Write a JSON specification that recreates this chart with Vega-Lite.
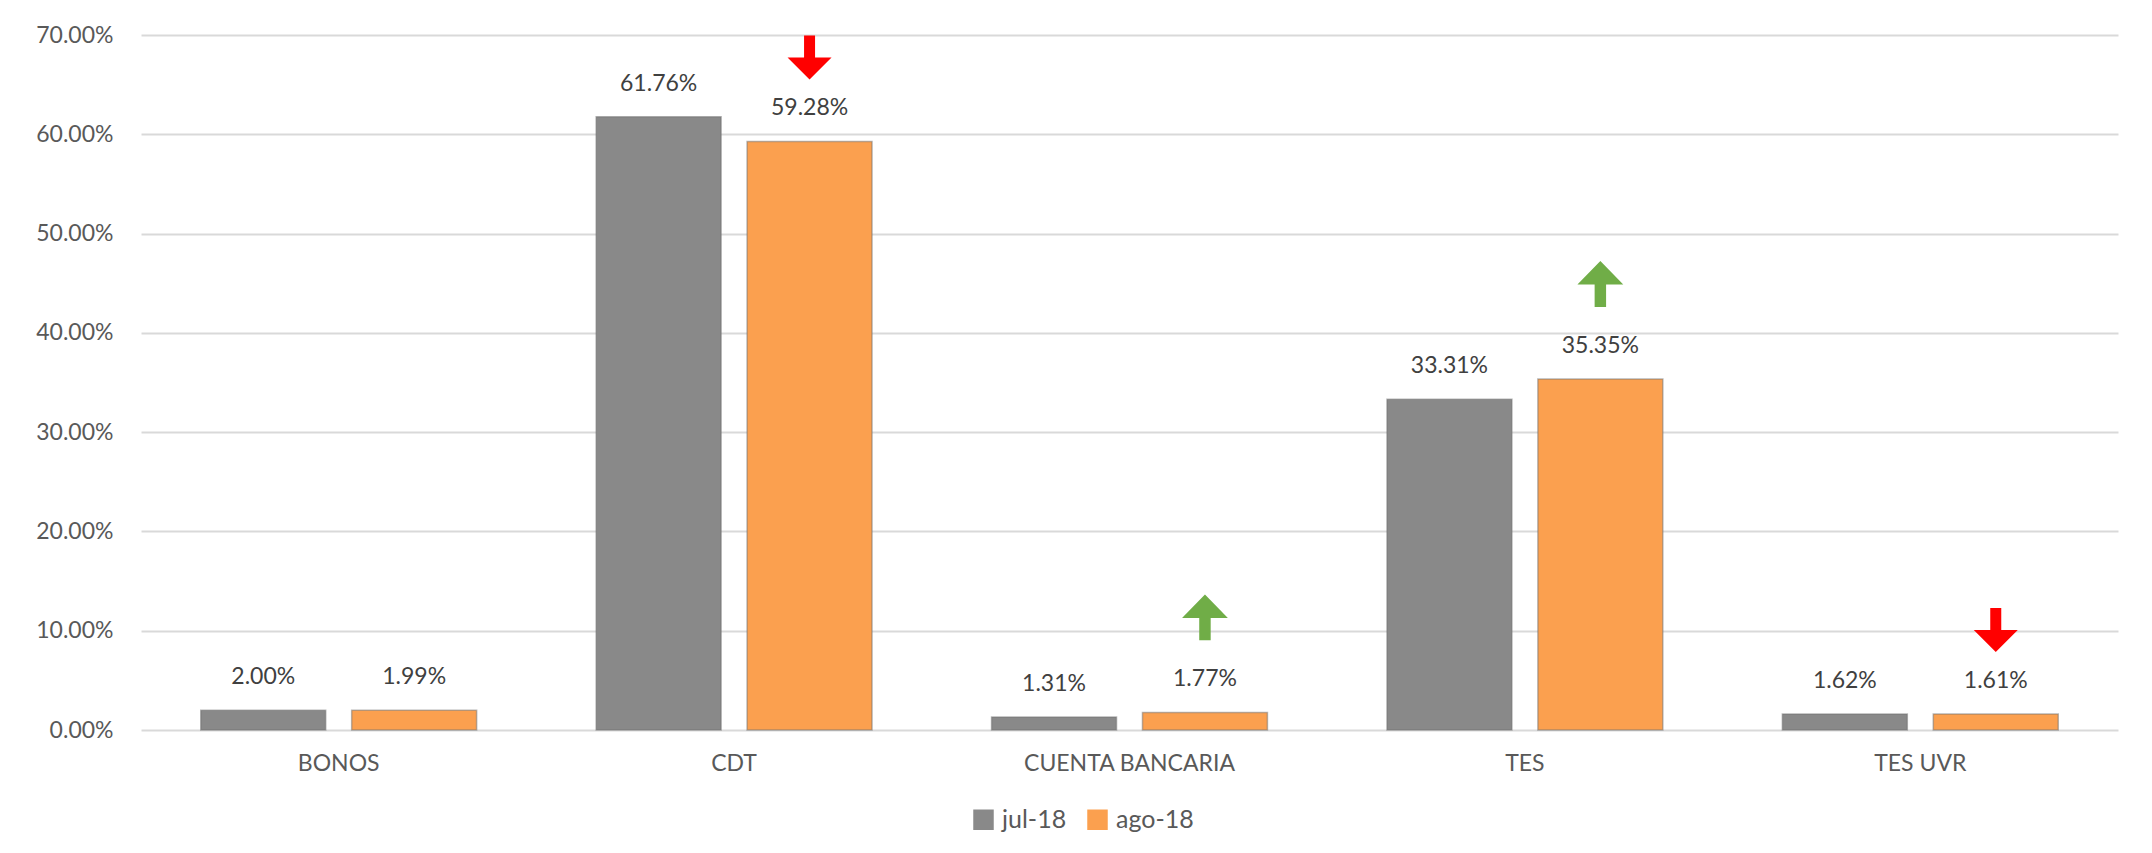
{
  "$schema": "https://vega.github.io/schema/vega-lite/v6.json",
  "width": 1977,
  "height": 695,
  "autosize": "none",
  "padding": {"left": 141, "top": 35, "right": 34, "bottom": 123},
  "background": "#ffffff",
  "config": {
    "font": "Lato",
    "view": {"stroke": null},
    "axis": {"labelFont": "Lato", "labelColor": "#595959", "labelFontSize": 23, "ticks": false, "domain": false, "title": null, "labelLimit": 0}
  },
  "data": {
    "values": [
      {"categoria": "BONOS", "mes": "jul-18", "valor": 0.0200},
      {"categoria": "BONOS", "mes": "ago-18", "valor": 0.0199},
      {"categoria": "CDT", "mes": "jul-18", "valor": 0.6176},
      {"categoria": "CDT", "mes": "ago-18", "valor": 0.5928, "tendencia": "baja"},
      {"categoria": "CUENTA BANCARIA", "mes": "jul-18", "valor": 0.0131},
      {"categoria": "CUENTA BANCARIA", "mes": "ago-18", "valor": 0.0177, "tendencia": "sube"},
      {"categoria": "TES", "mes": "jul-18", "valor": 0.3331},
      {"categoria": "TES", "mes": "ago-18", "valor": 0.3535, "tendencia": "sube"},
      {"categoria": "TES UVR", "mes": "jul-18", "valor": 0.0162},
      {"categoria": "TES UVR", "mes": "ago-18", "valor": 0.0161, "tendencia": "baja"}
    ]
  },
  "encoding": {
    "x": {
      "field": "categoria", "type": "nominal", "sort": null,
      "scale": {"paddingInner": 0, "paddingOuter": 0},
      "axis": {"labelAngle": 0, "labelPadding": 22, "grid": false, "labelLimit": 0}
    },
    "xOffset": {
      "field": "mes", "type": "nominal", "sort": ["jul-18", "ago-18"],
      "scale": {"paddingInner": 0.172, "paddingOuter": 0.396}
    },
    "y": {
      "field": "valor", "type": "quantitative",
      "scale": {"domain": [0, 0.7], "nice": false},
      "axis": {"format": ".2%", "values": [0, 0.1, 0.2, 0.3, 0.4, 0.5, 0.6, 0.7], "grid": true, "gridColor": "#D9D9D9", "gridWidth": 2, "labelPadding": 28}
    }
  },
  "layer": [
    {
      "mark": {"type": "bar", "strokeWidth": 1.5, "stroke": "#6f6f6f", "strokeOpacity": 0.5},
      "encoding": {
        "color": {
          "field": "mes", "type": "nominal",
          "scale": {"domain": ["jul-18", "ago-18"], "range": ["#898989", "#FBA04F"]},
          "legend": {
            "title": null, "orient": "none", "direction": "horizontal",
            "legendX": 830, "legendY": 772, "padding": 0,
            "symbolType": "square", "symbolSize": 420, "symbolStrokeWidth": 0, "symbolOpacity": 1,
            "labelFont": "Lato", "labelFontSize": 25, "labelColor": "#595959", "labelOffset": 6, "columnPadding": 18
          }
        }
      }
    },
    {
      "mark": {"type": "text", "dy": -33, "baseline": "middle", "fontSize": 23, "color": "#404040", "font": "Lato"},
      "encoding": {"text": {"field": "valor", "type": "quantitative", "format": ".2%"}}
    },
    {
      "transform": [{"filter": "datum.tendencia == 'baja'"}],
      "mark": {"type": "point", "filled": true, "opacity": 1, "size": 1936, "color": "#FF0000", "yOffset": -84,
        "shape": "M-0.25,-1L0.25,-1L0.25,0L1,0L0,1L-1,0L-0.25,0Z"},
      "encoding": {}
    },
    {
      "transform": [{"filter": "datum.tendencia == 'sube'"}],
      "mark": {"type": "point", "filled": true, "opacity": 1, "size": 2100, "color": "#70AD47", "yOffset": -95,
        "shape": "M-0.25,1L0.25,1L0.25,0.02L1,0.02L0,-1L-1,0.02L-0.25,0.02Z"},
      "encoding": {}
    }
  ]
}
